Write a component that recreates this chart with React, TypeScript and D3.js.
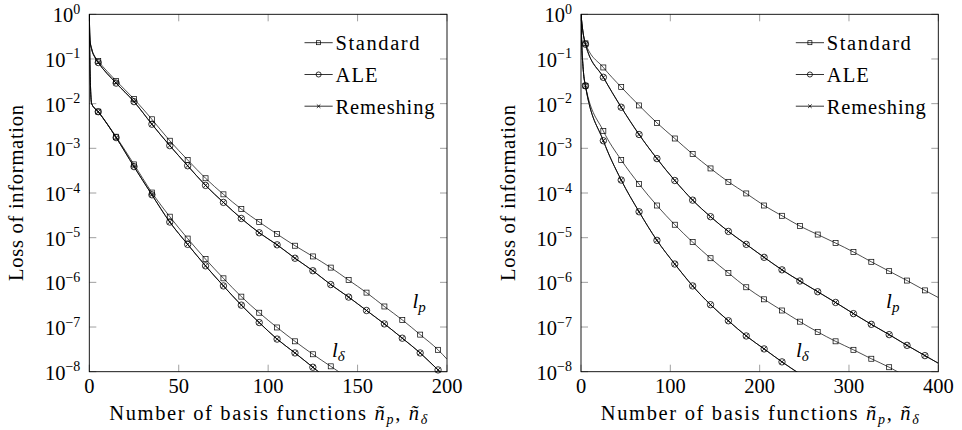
import React from "react";
import * as d3 from "d3";

const FONT = '"Liberation Serif"';

// ---------------- data (values are log10 of loss of information) ----------------
const Y_DECADES = [0, -1, -2, -3, -4, -5, -6, -7, -8];
const LEFT_X_TICKS = [0, 50, 100, 150, 200];
const RIGHT_X_TICKS = [0, 100, 200, 300, 400];
const SERIES_NAMES = ["Standard", "ALE", "Remeshing"];

// Left panel, l_p
const LEFT_LP_X = [0, 0.4, 1.3, 3.2, 5, 15, 25, 35, 45, 55, 65, 75, 85, 95, 105, 115, 125, 135, 145, 155, 165, 175, 185, 195, 200];
const LEFT_LP_STD = [0, -0.57, -0.76, -0.95, -1.045, -1.49, -1.895, -2.35, -2.83, -3.26, -3.67, -4.03, -4.36, -4.65, -4.92, -5.18, -5.42, -5.67, -5.95, -6.23, -6.54, -6.84, -7.17, -7.51, -7.72];
const LEFT_LP_ALE = [0, -0.59, -0.78, -0.97, -1.08, -1.54, -1.955, -2.46, -2.94, -3.39, -3.83, -4.21, -4.57, -4.89, -5.16, -5.46, -5.74, -6.05, -6.33, -6.63, -6.93, -7.25, -7.58, -7.96, -8.14];
const LEFT_LP_REM = [0, -0.59, -0.78, -0.97, -1.08, -1.54, -1.955, -2.46, -2.94, -3.39, -3.83, -4.21, -4.57, -4.89, -5.16, -5.46, -5.74, -6.05, -6.33, -6.63, -6.93, -7.25, -7.58, -7.96, -8.14];

// Left panel, l_delta
const LEFT_LD_STD_X = [0, 0.3, 0.7, 1.3, 5, 15, 25, 35, 45, 55, 65, 75, 85, 95, 105, 115, 125, 135, 145];
const LEFT_LD_STD = [0, -1.0, -1.65, -2.0, -2.18, -2.74, -3.36, -3.99, -4.53, -5.02, -5.48, -5.91, -6.32, -6.68, -7.01, -7.32, -7.61, -7.88, -8.15];
const LEFT_LD_ALE_X = [0, 0.3, 0.7, 1.3, 5, 15, 25, 35, 45, 55, 65, 75, 85, 95, 105, 115, 125, 135];
const LEFT_LD_ALE = [0, -1.0, -1.65, -2.0, -2.18, -2.76, -3.41, -4.04, -4.65, -5.15, -5.63, -6.08, -6.51, -6.9, -7.27, -7.58, -7.9, -8.22];
const LEFT_LD_REM = [0, -1.0, -1.65, -2.0, -2.18, -2.76, -3.41, -4.04, -4.65, -5.15, -5.63, -6.08, -6.51, -6.9, -7.27, -7.58, -7.9, -8.22];

// Right panel, l_p
const RIGHT_LP_X = [0, 1, 2, 5, 25, 45, 65, 85, 105, 125, 145, 165, 185, 205, 225, 245, 265, 285, 305, 325, 345, 365, 385, 400];
const RIGHT_LP_STD = [0, -0.2, -0.36, -0.65, -1.19, -1.63, -2.04, -2.43, -2.78, -3.13, -3.45, -3.75, -4.01, -4.28, -4.51, -4.74, -4.93, -5.12, -5.32, -5.54, -5.75, -5.96, -6.18, -6.34];
const RIGHT_LP_ALE = [0, -0.2, -0.37, -0.67, -1.41, -2.08, -2.69, -3.23, -3.72, -4.16, -4.53, -4.86, -5.15, -5.44, -5.72, -5.97, -6.21, -6.45, -6.7, -6.94, -7.17, -7.41, -7.64, -7.81];
const RIGHT_LP_REM = [0, -0.2, -0.37, -0.67, -1.41, -2.08, -2.69, -3.23, -3.72, -4.16, -4.53, -4.86, -5.15, -5.44, -5.72, -5.97, -6.21, -6.45, -6.7, -6.94, -7.17, -7.41, -7.64, -7.81];

// Right panel, l_delta
const RIGHT_LD_STD_X = [0, 1, 2, 3, 5, 25, 45, 65, 85, 105, 125, 145, 165, 185, 205, 225, 245, 265, 285, 305, 325, 345, 365];
const RIGHT_LD_STD = [0, -0.75, -1.1, -1.35, -1.6, -2.61, -3.26, -3.8, -4.28, -4.71, -5.1, -5.46, -5.79, -6.11, -6.38, -6.63, -6.88, -7.11, -7.32, -7.51, -7.71, -7.9, -8.12];
const RIGHT_LD_ALE_X = [0, 1, 2, 3, 5, 25, 45, 65, 85, 105, 125, 145, 165, 185, 205, 225, 245];
const RIGHT_LD_ALE = [0, -0.75, -1.1, -1.35, -1.6, -2.83, -3.71, -4.42, -5.06, -5.59, -6.08, -6.5, -6.86, -7.2, -7.49, -7.78, -8.05];
const RIGHT_LD_REM = [0, -0.75, -1.1, -1.35, -1.6, -2.83, -3.71, -4.42, -5.06, -5.59, -6.08, -6.5, -6.86, -7.2, -7.49, -7.78, -8.05];

// curve annotations (data coordinates)
const LEFT_NOTES = [
  { sub: "p", x: 180.7, e: -6.57 },
  { sub: "δ", x: 135.7, e: -7.66 },
];
const RIGHT_NOTES = [
  { sub: "p", x: 341.5, e: -6.57 },
  { sub: "δ", x: 240.7, e: -7.66 },
];

// ---------------- layout ----------------
const TOP = 14.3;
const BOTTOM = 371.7;
const FS = 20.5;

type Series = { kind: number; xs: number[]; es: number[] };

const LEFT_SERIES: Series[] = [
  { kind: 0, xs: LEFT_LP_X, es: LEFT_LP_STD },
  { kind: 1, xs: LEFT_LP_X, es: LEFT_LP_ALE },
  { kind: 2, xs: LEFT_LP_X, es: LEFT_LP_REM },
  { kind: 0, xs: LEFT_LD_STD_X, es: LEFT_LD_STD },
  { kind: 1, xs: LEFT_LD_ALE_X, es: LEFT_LD_ALE },
  { kind: 2, xs: LEFT_LD_ALE_X, es: LEFT_LD_REM },
];
const RIGHT_SERIES: Series[] = [
  { kind: 0, xs: RIGHT_LP_X, es: RIGHT_LP_STD },
  { kind: 1, xs: RIGHT_LP_X, es: RIGHT_LP_ALE },
  { kind: 2, xs: RIGHT_LP_X, es: RIGHT_LP_REM },
  { kind: 0, xs: RIGHT_LD_STD_X, es: RIGHT_LD_STD },
  { kind: 1, xs: RIGHT_LD_ALE_X, es: RIGHT_LD_ALE },
  { kind: 2, xs: RIGHT_LD_ALE_X, es: RIGHT_LD_REM },
];

function Marker({ kind, cx, cy, s = 1 }: { kind: number; cx: number; cy: number; s?: number }) {
  if (kind === 0) {
    const h = 2.5 * s;
    return <rect x={cx - h} y={cy - h} width={2 * h} height={2 * h} fill="none" stroke="#000" strokeWidth={0.7} />;
  }
  if (kind === 1) {
    return <circle cx={cx} cy={cy} r={3.2 * s} fill="none" stroke="#000" strokeWidth={0.8} />;
  }
  const h = 2.2 * s;
  return (
    <path
      d={`M${cx - h},${cy - h}L${cx + h},${cy + h}M${cx - h},${cy + h}L${cx + h},${cy - h}`}
      stroke="#000"
      strokeWidth={0.8}
      fill="none"
    />
  );
}

function Panel({
  left,
  right,
  xMax,
  xTicks,
  series,
  notes,
  markStep,
  id,
}: {
  left: number;
  right: number;
  xMax: number;
  xTicks: number[];
  series: Series[];
  notes: { sub: string; x: number; e: number }[];
  markStep: number;
  id: string;
}) {
  const x = d3.scaleLinear().domain([0, xMax]).range([left, right]);
  const y = d3.scaleLog().domain([1, 1e-8]).range([TOP, BOTTOM]);
  const line = d3
    .line<[number, number]>()
    .x((d) => x(d[0]))
    .y((d) => y(Math.pow(10, d[1])))
    .curve(d3.curveMonotoneX);
  const tickLen = 7;
  const midX = (left + right) / 2;
  const midY = (TOP + BOTTOM) / 2;
  const legendRows = [42.7, 74.5, 106.2];
  const legendLengths = [84, 42, 99];

  return (
    <g>
      <defs>
        <clipPath id={id}>
          <rect x={left} y={TOP} width={right - left} height={BOTTOM - TOP} />
        </clipPath>
      </defs>
      {Y_DECADES.map((e) => (
        <g key={"yt" + e} stroke="#888" strokeWidth={0.8}>
          <line x1={left} x2={left + tickLen} y1={y(Math.pow(10, e))} y2={y(Math.pow(10, e))} />
          <line x1={right - tickLen} x2={right} y1={y(Math.pow(10, e))} y2={y(Math.pow(10, e))} />
        </g>
      ))}
      {xTicks.map((t) => (
        <g key={"xt" + t} stroke="#888" strokeWidth={0.8}>
          <line x1={x(t)} x2={x(t)} y1={BOTTOM} y2={BOTTOM - tickLen} />
          <line x1={x(t)} x2={x(t)} y1={TOP} y2={TOP + tickLen} />
        </g>
      ))}
      <g clipPath={`url(#${id})`}>
        {series.map((s, i) => (
          <path
            key={"l" + i}
            d={line(s.xs.map((v, j) => [v, s.es[j]] as [number, number])) || ""}
            fill="none"
            stroke="#000"
            strokeWidth={s.kind === 0 ? 0.7 : 0.8}
          />
        ))}
      </g>
      {series.map((s, i) => (
        <g key={"m" + i}>
          {s.xs.map((v, j) =>
            v >= 5 && (v - 5) % markStep === 0 && s.es[j] >= -8.02 ? (
              <Marker key={j} kind={s.kind} cx={x(v)} cy={y(Math.pow(10, s.es[j]))} />
            ) : null
          )}
        </g>
      ))}
      <rect x={left} y={TOP} width={right - left} height={BOTTOM - TOP} fill="none" stroke="#000" strokeWidth={0.9} />
      {Y_DECADES.map((e) => (
        <text key={"yl" + e} x={left - 9} y={y(Math.pow(10, e)) + 8} textAnchor="end" fontSize={FS} style={{ fontFamily: FONT }}>
          10
          <tspan dy={-8.5} fontSize={14}>
            {e === 0 ? "0" : "\u2212" + String(-e)}
          </tspan>
        </text>
      ))}
      {xTicks.map((t) => (
        <text key={"xl" + t} x={x(t)} y={393} textAnchor="middle" fontSize={FS} style={{ fontFamily: FONT }}>
          {String(t)}
        </text>
      ))}
      <text
        transform={`translate(${left - 66},${midY}) rotate(-90)`}
        textAnchor="middle"
        fontSize={FS}
        style={{ fontFamily: FONT }}
        textLength={176}
        lengthAdjust="spacing"
      >
        Loss of information
      </text>
      <text x={midX} y={420} textAnchor="middle" fontSize={FS} style={{ fontFamily: FONT }} textLength={318} lengthAdjust="spacing">
        Number of basis functions{" "}
        <tspan fontStyle="italic">ñ</tspan>
        <tspan fontStyle="italic" fontSize={14} dy={4}>
          p
        </tspan>
        <tspan dy={-4}>, </tspan>
        <tspan fontStyle="italic">ñ</tspan>
        <tspan fontStyle="italic" fontSize={14} dy={4}>
          δ
        </tspan>
      </text>
      {notes.map((n) => (
        <text key={n.sub} x={x(n.x)} y={y(Math.pow(10, n.e))} fontSize={21} fontStyle="italic" style={{ fontFamily: FONT }}>
          l
          <tspan fontSize={15} dy={4}>
            {n.sub}
          </tspan>
        </text>
      ))}
      {SERIES_NAMES.map((name, i) => (
        <g key={name}>
          <line x1={right - 142.5} x2={right - 114.3} y1={legendRows[i]} y2={legendRows[i]} stroke="#000" strokeWidth={0.8} />
          <Marker kind={i} cx={right - 128.4} cy={legendRows[i]} s={0.8} />
          <text
            x={right - 111.5}
            y={legendRows[i] + 7.3}
            fontSize={FS}
            style={{ fontFamily: FONT }}
            textLength={legendLengths[i]}
            lengthAdjust="spacing"
          >
            {name}
          </text>
        </g>
      ))}
    </g>
  );
}

export default function App() {
  return (
    <svg width={962} height={430} style={{ position: "absolute", left: 0, top: 0 }}>
      <rect x={0} y={0} width={962} height={430} fill="#fff" />
      <Panel left={89.3} right={447} xMax={200} xTicks={LEFT_X_TICKS} series={LEFT_SERIES} notes={LEFT_NOTES} markStep={10} id="clipL" />
      <Panel left={581} right={938.3} xMax={400} xTicks={RIGHT_X_TICKS} series={RIGHT_SERIES} notes={RIGHT_NOTES} markStep={20} id="clipR" />
    </svg>
  );
}
